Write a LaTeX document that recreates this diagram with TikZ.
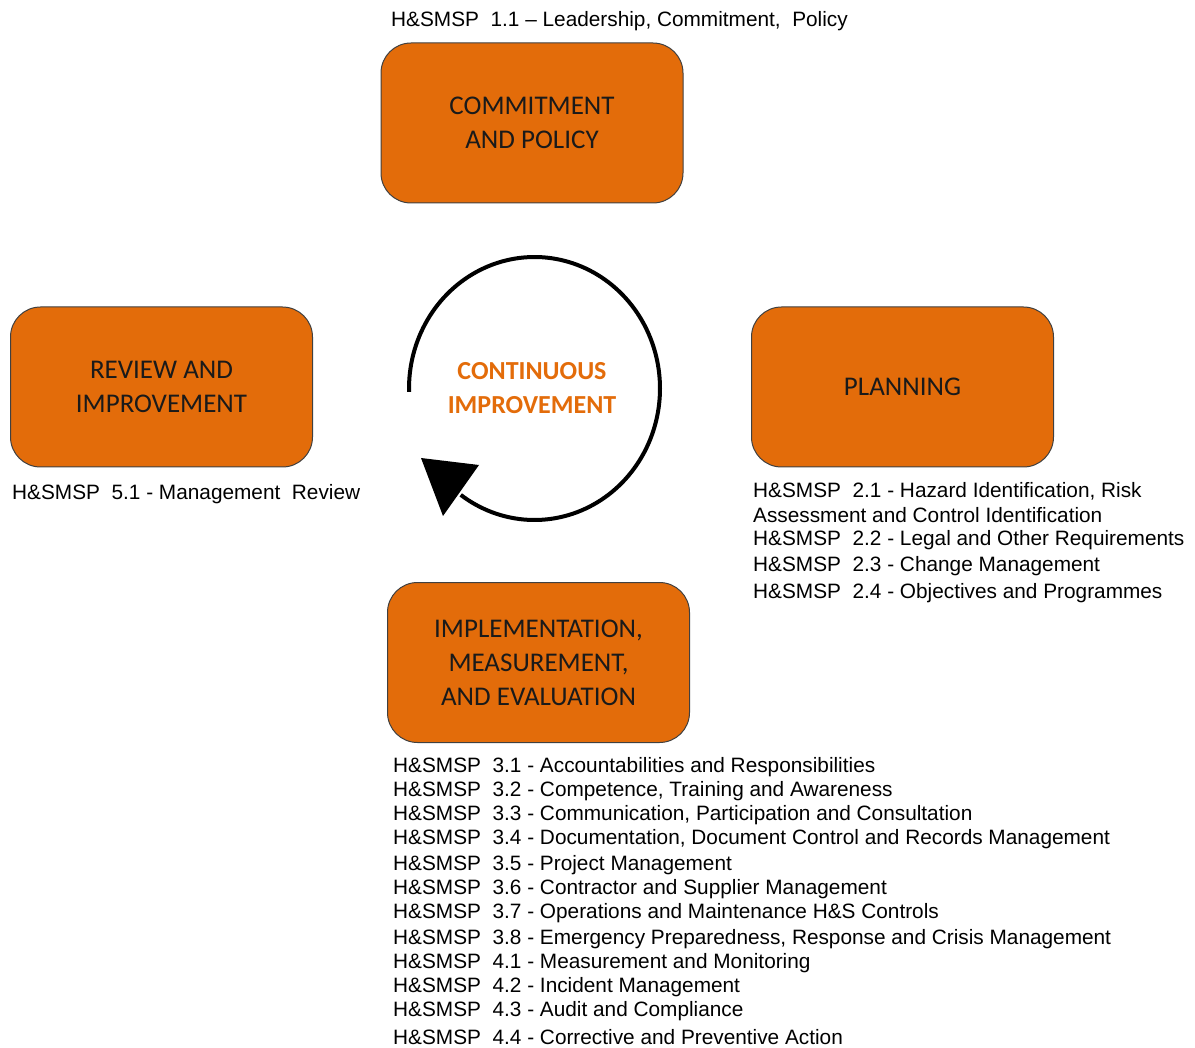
\documentclass[tikz,border=0pt]{standalone}
\usepackage{fontspec}
\setmainfont{Liberation Sans}
\newfontfamily\boxfont{Carlito}
\definecolor{boxorange}{HTML}{E36C0A}
\definecolor{boxedge}{HTML}{404040}
\definecolor{boxtext}{HTML}{1A1A1A}
\begin{document}
\begin{tikzpicture}[x=1pt,y=-1pt,
  stage/.style={draw=boxedge, line width=1pt, fill=boxorange, rounded corners=30pt,
    minimum width=302pt, minimum height=160pt, align=center, inner sep=0pt,
    font=\boxfont\fontsize{27}{34}\selectfont, text=boxtext},
  reflabel/.style={anchor=base west, inner sep=0pt, font=\fontsize{20.8}{24}\selectfont},
  cycletext/.style={align=center, inner sep=0pt, text=boxorange,
    font=\boxfont\bfseries\fontsize{26}{34}\selectfont}]
\useasboundingbox (0,0) rectangle (1195,1048);

% stage boxes
\node[stage] (commit) at (532,123) {COMMITMENT\\AND POLICY};
\node[stage] (review) at (161.5,387) {REVIEW AND\\IMPROVEMENT};
\node[stage] (plan) at (902.5,387) {PLANNING};
\node[stage] (impl) at (538.5,662.5) {IMPLEMENTATION,\\MEASUREMENT,\\AND EVALUATION};

% continuous improvement cycle
\draw[line width=4pt] plot[domain=178.5:486, samples=150]
  ({534.5+125.5*cos(\x)},{388.5+131.5*sin(\x)});
\fill (421,458) -- (479,465) -- (443,516) -- cycle;
\node[cycletext] (ci) at (532,388) {CONTINUOUS\\IMPROVEMENT};

% reference labels
\node[reflabel] (l11) at (391,27) {H\&SMSP~~1.1 – Leadership, Commitment,~~Policy};
\node[reflabel] (l51) at (12,500) {H\&SMSP~~5.1 - Management~~Review};

\node[reflabel] (l21a) at (753,498) {H\&SMSP~~2.1 - Hazard Identification, Risk};
\node[reflabel] (l21b) at (753,522) {Assessment and Control Identification};
\node[reflabel] (l22) at (753,546) {H\&SMSP~~2.2 - Legal and Other Requirements};
\node[reflabel] (l23) at (753,571) {H\&SMSP~~2.3 - Change Management};
\node[reflabel] (l24) at (753,598) {H\&SMSP~~2.4 - Objectives and Programmes};

\node[reflabel] (l31) at (393,772) {H\&SMSP~~3.1 - Accountabilities and Responsibilities};
\node[reflabel] (l32) at (393,796) {H\&SMSP~~3.2 - Competence, Training and Awareness};
\node[reflabel] (l33) at (393,820) {H\&SMSP~~3.3 - Communication, Participation and Consultation};
\node[reflabel] (l34) at (393,844) {H\&SMSP~~3.4 - Documentation, Document Control and Records Management};
\node[reflabel] (l35) at (393,870) {H\&SMSP~~3.5 - Project Management};
\node[reflabel] (l36) at (393,894) {H\&SMSP~~3.6 - Contractor and Supplier Management};
\node[reflabel] (l37) at (393,918) {H\&SMSP~~3.7 - Operations and Maintenance H\&S Controls};
\node[reflabel] (l38) at (393,944) {H\&SMSP~~3.8 - Emergency Preparedness, Response and Crisis Management};
\node[reflabel] (l41) at (393,968) {H\&SMSP~~4.1 - Measurement and Monitoring};
\node[reflabel] (l42) at (393,992) {H\&SMSP~~4.2 - Incident Management};
\node[reflabel] (l43) at (393,1016) {H\&SMSP~~4.3 - Audit and Compliance};
\node[reflabel] (l44) at (393,1044) {H\&SMSP~~4.4 - Corrective and Preventive Action};
\end{tikzpicture}
\end{document}
